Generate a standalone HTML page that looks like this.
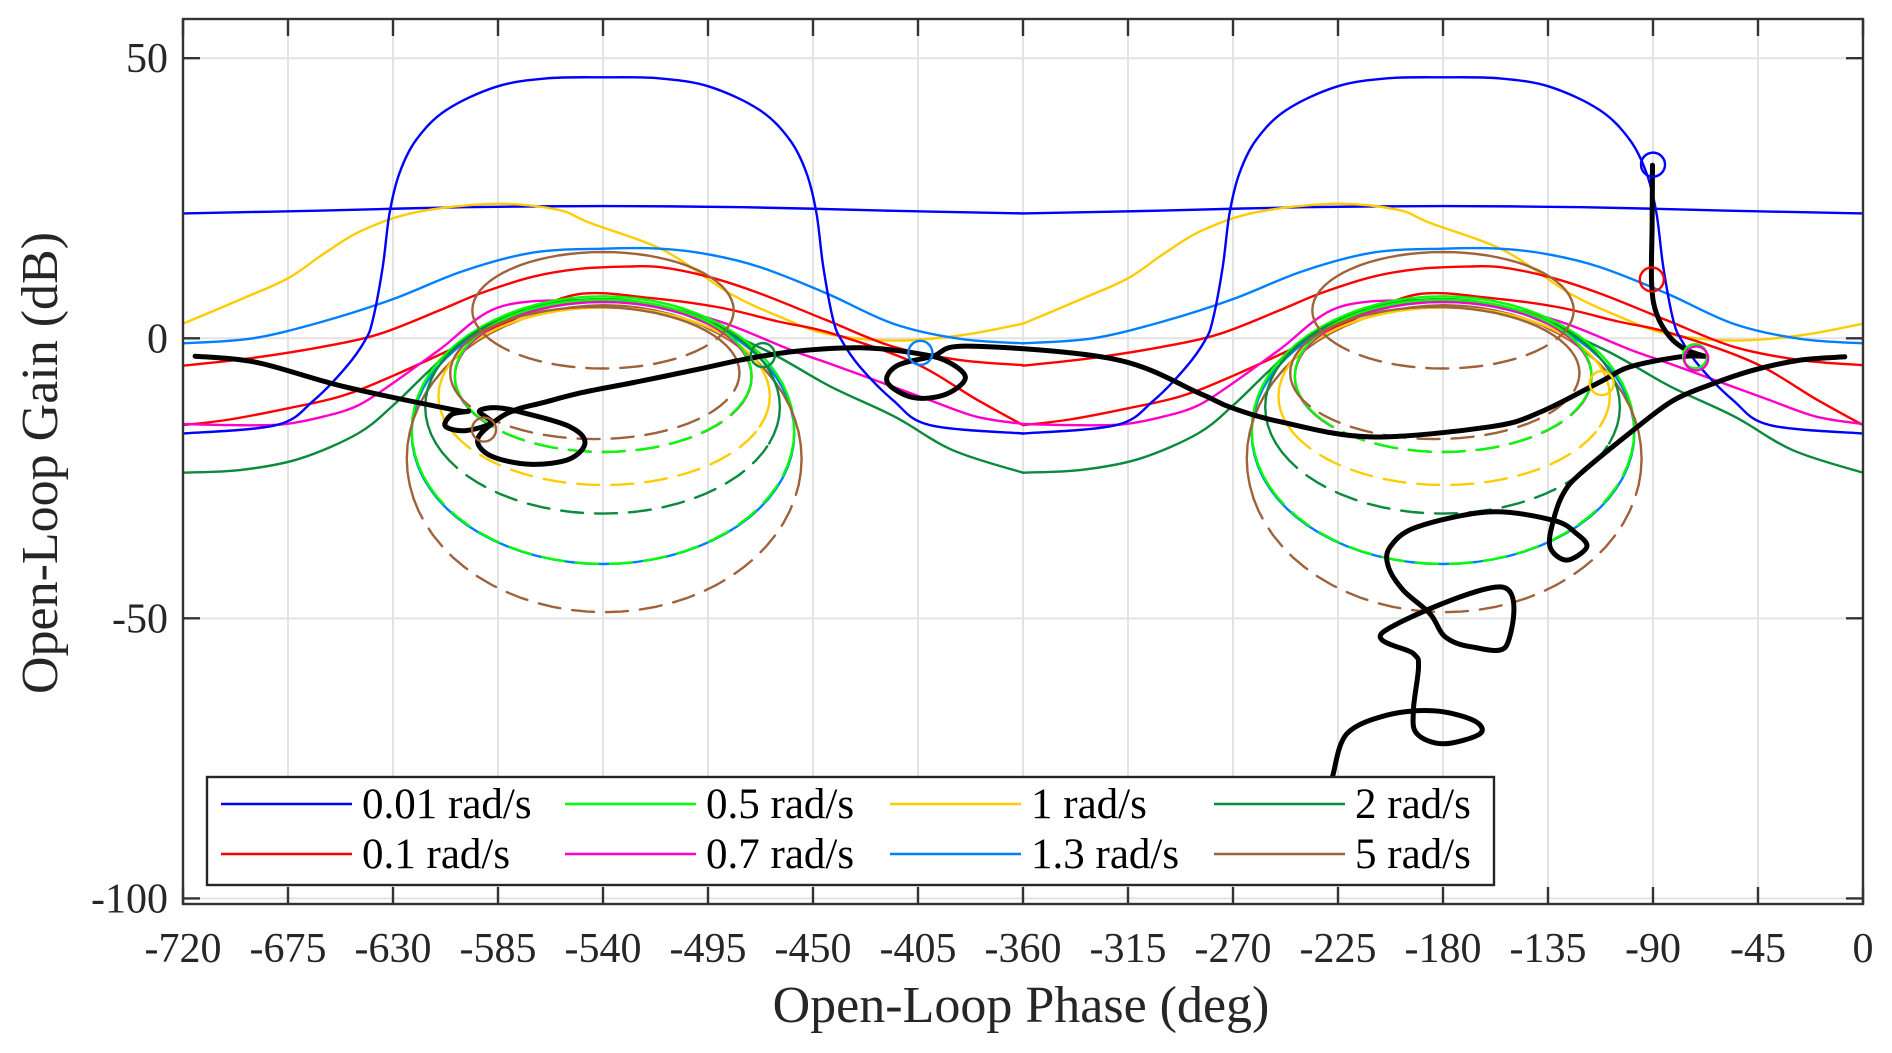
<!DOCTYPE html>
<html><head><meta charset="utf-8"><style>
html,body{margin:0;padding:0;background:#fff;}
svg{display:block;font-family:"Liberation Serif",serif;}
</style></head><body>
<svg id="chart" width="1892" height="1053" viewBox="0 0 1892 1053" xmlns="http://www.w3.org/2000/svg"></svg>
<script>
// ---- data (phase deg, gain dB); periodic curves given for one period (-360..0) ----
const xTicks = [-720,-675,-630,-585,-540,-495,-450,-405,-360,-315,-270,-225,-180,-135,-90,-45,0];
const yTicks = [50,0,-50,-100];
const periodOffsets = [-360, 0];

const blueFlat = [[-360,22.3],[-300,22.8],[-240,23.4],[-180,23.6],[-120,23.4],[-60,22.8],[0,22.3]];
const bluePlateau = [[-360,-17],[-320,-15.5],[-304,-11.1],[-290,-5.1],[-282,-0.4],[-278.7,3.2],[-274.4,12.7],[-271.5,22.3],[-267.3,29.4],[-260.1,35.4],[-247.3,40.7],[-225.8,44.9],[-204.4,46.4],[-180,46.6],[-155.6,46.4],[-134.2,44.9],[-112.7,40.7],[-99.9,35.4],[-92.7,29.4],[-88.5,22.3],[-85.6,12.7],[-81.3,3.2],[-77.7,-0.4],[-69.9,-5.1],[-55.6,-11.1],[-40,-15.5],[0,-17]];
const redUpper = [[-360,-4.9],[-330,-3.5],[-300,-1.5],[-275.6,0.8],[-250,5],[-232.7,8],[-210,11],[-190,12.4],[-170,12.8],[-155.6,12.7],[-135,11],[-112.7,8],[-84.1,3.2],[-55.6,-1.5],[-27,-3.9],[0,-4.8]];
const redLower = [[-360,-15.5],[-340,-14.5],[-315,-12.5],[-292,-10.3],[-270,-6.7],[-239,-0.8],[-215,4],[-190,7.9],[-160,7.2],[-130,5.5],[-105,3],[-83,1],[-47,-4.3],[-20,-10.9],[0,-15.5]];
const magentaSweep = [[-360,-15.3],[-340,-15.5],[-318,-15.4],[-300,-14],[-285,-12],[-270,-8],[-250,-2],[-225,5.5],[-190,6.8],[-160,6],[-130,3],[-100,-2],[-83,-4.5],[-60,-8],[-41,-10.9],[-20,-14],[0,-15.3]];
const darkGreenSweep = [[-360,-24],[-335,-23.5],[-310,-21.5],[-285,-17],[-270,-12],[-255,-6],[-240,-0.5],[-215,5],[-180,7],[-150,5],[-111,-2],[-83,-8.5],[-55,-14],[-30,-20],[0,-24]];
const lightBlueSweep = [[-360,-0.9],[-330,0],[-300,3],[-270,7],[-240,12],[-210,15.3],[-180,16],[-155.6,16],[-135,15],[-112.7,12.7],[-84.1,8],[-55.6,2.6],[-27,-0.1],[0,-0.9]];
const yellowSweep = [[-360,2.6],[-335,7],[-315,10.7],[-300,15],[-283,19.3],[-260,22.5],[-227,24],[-200,23],[-185,20.5],[-154,15.7],[-125.6,8],[-104,3.8],[-84,0.8],[-55.6,-0.4],[-27,0.5],[0,2.6]];

// loops (one period): color key, center phase, half-width (deg), top gain, bottom gain, gain below which line is dashed
const loopColor  = ['lightblue','green','brown','darkgreen','yellow','magenta','green','brown','brown'];
const loopCenter = [-180,-180,-179.5,-180.2,-179.5,-179.9,-179.9,-183.5,-180];
const loopHalf   = [82,82,84.6,76,71,63.6,63.6,62,56];
const loopTop    = [6.5,7.5,5.9,6.8,5.5,6.5,6.9,5.6,15.4];
const loopBottom = [-40.3,-40.3,-48.9,-31.3,-26.2,-20.3,-20.3,-18,-5.4];
const loopSplit  = [-999,-25,-27,-19,-17,-12.8,-12.8,-9,0.3];

const blackA = [[-714.8,-3.2],[-688.4,-4.3],[-652.2,-8.5],[-604.8,-12.7],[-597.8,-13],[-604.8,-13.6],[-607.6,-15.7],[-599.2,-16.5],[-588.1,-15.1],[-593,-13],[-585.3,-12.4],[-574.1,-13.3],[-554.6,-15.7],[-547.7,-18.6],[-554.6,-21.6],[-571.4,-22.5],[-588.1,-21],[-593.7,-18],[-585.3,-14.5],[-576.9,-12.7],[-565.8,-11.5],[-549.1,-9.7],[-526.8,-7.9],[-498.9,-5.5],[-479.4,-3.75],[-457.1,-2.3],[-429.3,-1.7],[-407,-2.6],[-393.1,-4],[-384.7,-7],[-393.1,-10],[-407,-10.6],[-418.1,-7.9],[-414,-4.9],[-398.6,-3.2],[-383.3,-1.4],[-320.6,-3.75],[-284.5,-9.8],[-271.2,-12.3],[-249.8,-14.9],[-211.2,-17.6],[-159.8,-15.8],[-138.4,-13.2],[-112.7,-7.8],[-99.8,-5.1],[-78.4,-3.3],[-67.7,-3.2]];
const blackB = [[-67.7,-3.2],[-75.6,-2.1],[-82.7,0.2],[-88.5,4.4],[-90.6,9.8],[-90.4,20],[-90.2,30.9]];
const blackC = [[-7.8,-3.3],[-27,-3.9],[-47,-5.7],[-64.2,-8.1],[-81.3,-11.1],[-98.4,-16.4],[-121.2,-24.2],[-128.4,-27.7],[-132.7,-32.5],[-134.1,-37.3],[-127,-39.6],[-118.4,-37.3],[-122.7,-34.9],[-132.7,-32.5],[-159.8,-31],[-191.2,-33.7],[-202.7,-37.3],[-203.4,-40.8],[-197,-45],[-185.5,-49.2],[-179.1,-53.3],[-167.7,-55.1],[-152.7,-54.8],[-154.8,-44.4],[-205.5,-52.4],[-192.7,-56.3],[-190.5,-58.7],[-192.7,-66.4],[-191.2,-70.6],[-179.8,-72.4],[-164.1,-70.6],[-167,-68.2],[-184.1,-66.5],[-204.1,-67.3],[-221.2,-70.6],[-227,-77.7],[-227.5,-80]];

const markerColor = ['blue','red','green','magenta','yellow','lightblue','darkgreen','brown'];
const markerPhase = [-90,-90.5,-72,-71.5,-112,-404,-471.5,-591];
const markerGain  = [31,10.5,-3.2,-3.6,-8,-2.6,-3,-16.3];

const legendLabels = ['0.01 rad/s','0.1 rad/s','0.5 rad/s','0.7 rad/s','1 rad/s','1.3 rad/s','2 rad/s','5 rad/s'];
const legendKeys = ['blue','red','green','magenta','yellow','lightblue','darkgreen','brown'];

// ---- layout ----
const C = {blue:'#0000ff',red:'#ff0000',green:'#00ff00',magenta:'#ff00cc',yellow:'#ffcc00',darkgreen:'#0a8a3c',lightblue:'#0080ff',brown:'#a0623a'};
const L=183,R=1863,T=19,B=904, X0=-720,X1=0, Y0=-101, Y1=57;
const sx = p => L + (p - X0)/(X1 - X0)*(R - L);
const sy = g => B - (g - Y0)/(Y1 - Y0)*(B - T);
const svg = document.getElementById('chart');
const NS='http://www.w3.org/2000/svg';
function mk(tag, attrs, parent){const e=document.createElementNS(NS,tag);for(const k in attrs)e.setAttribute(k,attrs[k]);(parent||svg).appendChild(e);return e;}
function smoothPath(pts){
  if(pts.length<3) return 'M'+pts.map(p=>p.join(',')).join('L');
  let d='M'+pts[0][0].toFixed(1)+','+pts[0][1].toFixed(1);
  for(let i=0;i<pts.length-1;i++){
    const p0=pts[Math.max(0,i-1)],p1=pts[i],p2=pts[i+1],p3=pts[Math.min(pts.length-1,i+2)];
    const c1=[p1[0]+(p2[0]-p0[0])/6,p1[1]+(p2[1]-p0[1])/6], c2=[p2[0]-(p3[0]-p1[0])/6,p2[1]-(p3[1]-p1[1])/6];
    d+='C'+c1[0].toFixed(1)+','+c1[1].toFixed(1)+' '+c2[0].toFixed(1)+','+c2[1].toFixed(1)+' '+p2[0].toFixed(1)+','+p2[1].toFixed(1);
  }
  return d;
}
const clip = mk('clipPath',{id:'plotclip'}, mk('defs',{}));
mk('rect',{x:L,y:T,width:R-L,height:B-T},clip);

// grid
const grid = mk('g',{stroke:'#e3e3e3','stroke-width':2});


xTicks.forEach(v=>mk('line',{x1:sx(v),x2:sx(v),y1:T,y2:B},grid));
yTicks.forEach(v=>mk('line',{x1:L,x2:R,y1:sy(v),y2:sy(v)},grid));

const plot = mk('g',{'clip-path':'url(#plotclip)',fill:'none','stroke-linejoin':'round','stroke-linecap':'round'});



function drawCurve(data, color, name, offs){
  offs.forEach(o=>{
    const pts=data.map(d=>[sx(d[0]+o),sy(d[1])]);
    const p=mk('path',{d:smoothPath(pts),stroke:C[color],'stroke-width':2.4},plot);
    
    
  });
}
drawCurve(blueFlat,'blue','blue-flat-curve',periodOffsets);
drawCurve(yellowSweep,'yellow','yellow-sweep-curve',periodOffsets);
drawCurve(lightBlueSweep,'lightblue','lightblue-sweep-curve',periodOffsets);
drawCurve(redUpper,'red','red-upper-curve',periodOffsets);
drawCurve(redLower,'red','red-lower-curve',periodOffsets);
drawCurve(magentaSweep,'magenta','magenta-sweep-curve',periodOffsets);
drawCurve(darkGreenSweep,'darkgreen','darkgreen-sweep-curve',periodOffsets);

// loops
for(let i=0;i<loopCenter.length;i++){
  periodOffsets.forEach(o=>{
    const c=loopCenter[i]+o, a=loopHalf[i], M=(loopTop[i]+loopBottom[i])/2, h=(loopTop[i]-loopBottom[i])/2;
    const n=72; let run=[], runDash=null;
    const flush=()=>{ if(run.length>1){
      const p=mk('path',{d:'M'+run.map(q=>q[0].toFixed(1)+','+q[1].toFixed(1)).join('L'),stroke:C[loopColor[i]],'stroke-width':2.4},plot);
      if(runDash) p.setAttribute('stroke-dasharray','22 12');
      
      
    } };
    for(let k=0;k<=n;k++){
      const t=k/n*2*Math.PI;
      const ph=c+a*Math.cos(t), g=M+h*Math.sin(t);
      const dash = g<loopSplit[i];
      const pt=[sx(ph),sy(g)];
      if(runDash===null) runDash=dash;
      if(dash!==runDash){ run.push(pt); flush(); run=[pt]; runDash=dash; } else run.push(pt);
    }
    flush();
  });
}
drawCurve(bluePlateau,'blue','blue-plateau-curve',periodOffsets);

// black trajectory
[blackA,blackB,blackC].forEach((arr,i)=>{
  const p=mk('path',{d:smoothPath(arr.map(d=>[sx(d[0]),sy(d[1])])),stroke:'#000','stroke-width':5},plot);
  
  
});
// markers
for(let i=0;i<markerPhase.length;i++){
  const m=mk('circle',{cx:sx(markerPhase[i]),cy:sy(markerGain[i]),r:12,fill:'none',stroke:C[markerColor[i]],'stroke-width':2.4},plot);
  
  
}

// axes box & ticks
const ax=mk('g',{stroke:'#333','stroke-width':2.4,fill:'none'});


mk('rect',{x:L,y:T,width:R-L,height:B-T},ax);
xTicks.forEach(v=>{mk('line',{x1:sx(v),x2:sx(v),y1:B,y2:B-17},ax);mk('line',{x1:sx(v),x2:sx(v),y1:T,y2:T+17},ax);});
yTicks.forEach(v=>{mk('line',{x1:L,x2:L+17,y1:sy(v),y2:sy(v)},ax);mk('line',{x1:R,x2:R-17,y1:sy(v),y2:sy(v)},ax);});
xTicks.forEach(v=>{
  const t=mk('text',{x:sx(v),y:962,'text-anchor':'middle','font-size':42,fill:'#262626'});
  t.textContent=String(v);
  
  
});
yTicks.forEach(v=>{
  const t=mk('text',{x:168,y:sy(v)+14,'text-anchor':'end','font-size':42,fill:'#262626'});
  t.textContent=String(v);
  
  
});
const xl=mk('text',{x:1021,y:1022,'text-anchor':'middle','font-size':52,fill:'#262626'});
xl.textContent='Open-Loop Phase (deg)';


const yl=mk('text',{x:0,y:0,'text-anchor':'middle','font-size':52,fill:'#262626',transform:'translate(57,463) rotate(-90)'});
yl.textContent='Open-Loop Gain (dB)';



// legend
const lg=mk('g',{});


mk('rect',{x:207,y:777,width:1287,height:108,fill:'#fff',stroke:'#262626','stroke-width':2.4},lg);
const colX=[221,565,890,1214], rowY=[804,854];
for(let i=0;i<legendLabels.length;i++){
  const col=Math.floor(i/2), row=i%2, x=colX[col], y=rowY[row];
  const e=mk('g',{},lg);
  
  
  mk('line',{x1:x,x2:x+131,y1:y,y2:y,stroke:C[legendKeys[i]],'stroke-width':2.4},e);
  const t=mk('text',{x:x+141,y:y+14,'font-size':43,fill:'#000'},e);
  t.textContent=legendLabels[i];
}
</script>
</body></html>
